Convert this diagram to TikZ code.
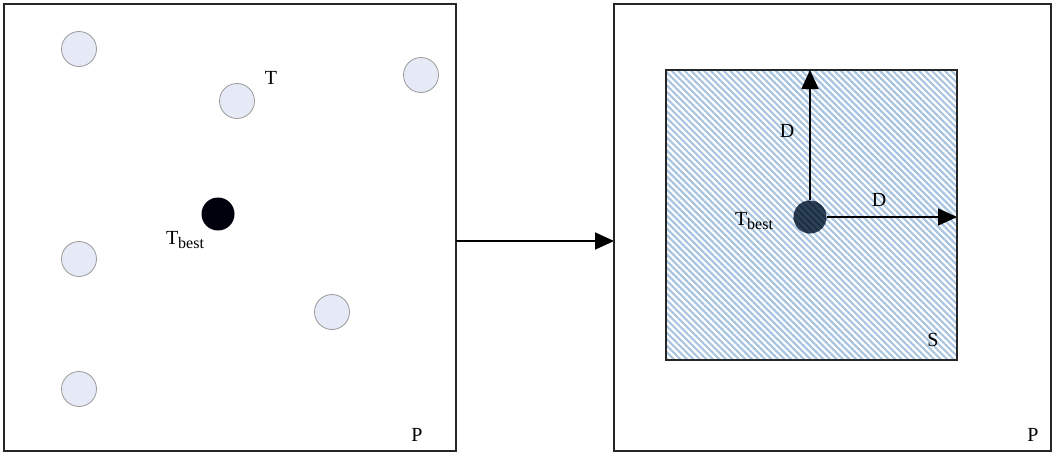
\documentclass[tikz,border=0pt]{standalone}
\usepackage{fontspec}
\setmainfont{Liberation Serif}
\usetikzlibrary{patterns.meta,arrows.meta}
\definecolor{cfill}{HTML}{E6EAF6}
\definecolor{cedge}{HTML}{9A9A9A}
\definecolor{hatch}{HTML}{A9C4E0}
\definecolor{navy}{HTML}{1A2F48}
\newcommand{\tbestlbl}{T\raisebox{-0.4ex}{\fontsize{16}{18}\selectfont best}}
\tikzset{
  frame/.style={draw=black!85, line width=1.3pt},
  cand/.style={circle, fill=cfill, draw=cedge, line width=0.8pt, minimum size=35pt, inner sep=0pt},
  best/.style={circle, fill=black!95!blue, minimum size=33pt, inner sep=0pt},
  lbl/.style={inner sep=0pt, font=\fontsize{20}{22}\selectfont},
  arr/.style={line width=1.8pt, -{Triangle[length=19pt,width=17pt]}},
}
\begin{document}
\begin{tikzpicture}[x=1pt,y=-1pt]
\useasboundingbox (0,0) rectangle (1055,453);
% left frame
\draw[frame] (4,4) rectangle (456,451);
\node[cand] (c1) at (79,49) {};
\node[cand] (c2) at (237,101) {};
\node[cand] (c3) at (421,75) {};
\node[cand] (c4) at (79,259) {};
\node[cand] (c5) at (332,312) {};
\node[cand] (c6) at (79,389) {};
\node[best] (tb) at (218,214) {};
\node[lbl] (lt) at (271,78) {T};
\node[lbl] (ltb) at (185,240) {\tbestlbl};
\node[lbl] (lp1) at (417,435) {P};
% right frame
\draw[frame] (614,4) rectangle (1051,451);
\coordinate (lf) at (456,241);
\coordinate (rf) at (614,241);
\draw[arr] (lf) -- (rf);
\filldraw[pattern={Lines[angle=-45,distance=4.6pt,line width=2.2pt]}, pattern color=hatch, draw=black!85, line width=1.3pt] (666,70) rectangle (957,360);
\node[circle, minimum size=33pt, inner sep=0pt, fill=navy!75!gray] (sb) at (810,217) {};
\fill[pattern={Lines[angle=-45,distance=4.6pt,line width=2pt]}, pattern color=navy] (sb.center) circle (16.5pt);
\coordinate (top) at (810,70);
\coordinate (rgt) at (957,217);
\draw[arr] (sb.north) -- (top);
\draw[arr] (sb.east) -- (rgt);
\node[lbl] (d1) at (787,131) {D};
\node[lbl] (d2) at (879,200) {D};
\node[lbl] (ltb2) at (754,221) {\tbestlbl};
\node[lbl] (ls) at (933,340) {S};
\node[lbl] (lp2) at (1033,435) {P};
\end{tikzpicture}
\end{document}
